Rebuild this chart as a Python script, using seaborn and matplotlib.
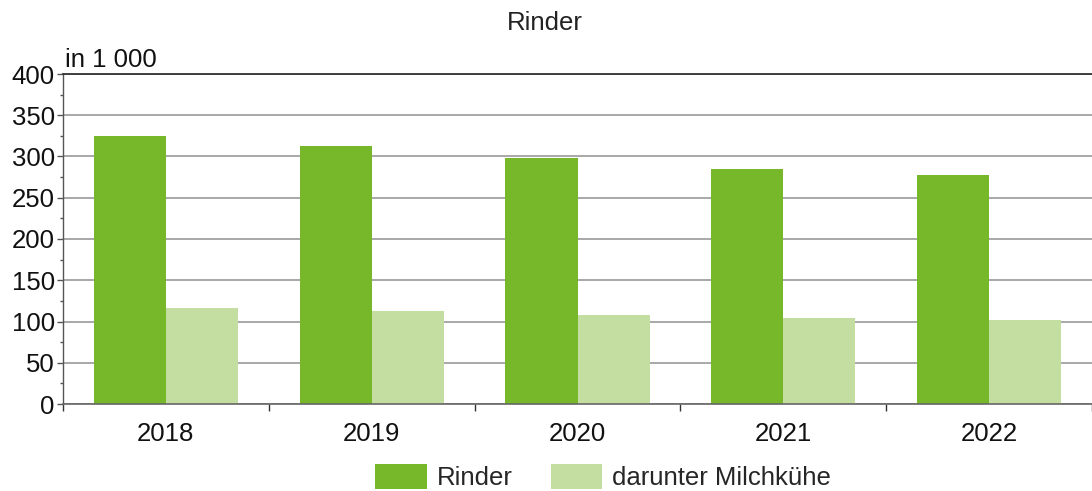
import matplotlib
matplotlib.use("Agg")
import matplotlib.pyplot as plt
import seaborn as sns
import pandas as pd
from matplotlib.ticker import MultipleLocator
from matplotlib.patches import Patch

years = ["2018", "2019", "2020", "2021", "2022"]
rinder = [325, 313, 298, 285, 278]
milchkuehe = [116, 113, 108, 104, 102]
series_names = ["Rinder", "darunter Milchkühe"]
colors = ["#77b82a", "#c4dda1"]

df = pd.DataFrame({
    "Jahr": years * 2,
    "Wert": rinder + milchkuehe,
    "Serie": [series_names[0]] * len(years) + [series_names[1]] * len(years),
})

sns.set_theme(style="white")
plt.rcParams["font.family"] = ["Liberation Sans", "DejaVu Sans"]
FS = 18.5

fig = plt.figure(figsize=(10.92, 4.91), dpi=100)
ax = fig.add_axes([63 / 1092, 1 - 404 / 491, (1092 - 63) / 1092, 330 / 491])

sns.barplot(data=df, x="Jahr", y="Wert", hue="Serie", palette=colors,
            width=0.7, saturation=1, ax=ax, legend=False, linewidth=0)

ax.set_xlim(-0.5, len(years) - 0.5)
ax.set_ylim(0, 400)
ax.yaxis.set_major_locator(MultipleLocator(50))
ax.yaxis.set_minor_locator(MultipleLocator(25))
ax.set_axisbelow(True)
ax.grid(axis="y", which="major", color="#999999", linewidth=1.2)
ax.grid(axis="x", visible=False)

ax.spines["right"].set_visible(False)
ax.spines["top"].set_color("#333333")
ax.spines["top"].set_linewidth(1.3)
ax.spines["left"].set_color("#555555")
ax.spines["bottom"].set_color("#666666")
ax.spines["left"].set_linewidth(1)
ax.spines["bottom"].set_linewidth(1.2)

ax.tick_params(axis="y", which="major", direction="out", length=4, width=1,
               color="#555555", labelsize=FS, pad=2, left=True, labelcolor="#111111")
ax.tick_params(axis="y", which="minor", direction="out", length=2.5, width=1,
               color="#555555", left=True)
ax.set_xticks(range(len(years)))
ax.set_xticklabels(years)
ax.tick_params(axis="x", which="major", length=0, labelsize=FS, pad=13, labelcolor="#111111")
ax.set_xticks([i - 0.5 for i in range(len(years) + 1)], minor=True)
ax.tick_params(axis="x", which="minor", direction="out", length=5, width=1,
               color="#333333", bottom=True)

ax.set_xlabel("")
ax.set_ylabel("")

fig.text(545 / 1092, 1 - 23 / 491, "Rinder", ha="center", va="center",
         fontsize=FS, color="#222222")
fig.text(65 / 1092, 1 - 60 / 491, "in 1 000", ha="left", va="center",
         fontsize=FS, color="#111111")

handles = [Patch(facecolor=c, edgecolor="none") for c in colors]
fig.legend(handles, series_names, loc="center", bbox_to_anchor=(603 / 1092, 1 - 477 / 491),
           ncol=2, frameon=False, fontsize=FS, handlelength=2.02, handleheight=1.1,
           columnspacing=1.48, handletextpad=0.39, borderpad=0, borderaxespad=0)

fig.savefig("out.png", dpi=100)
